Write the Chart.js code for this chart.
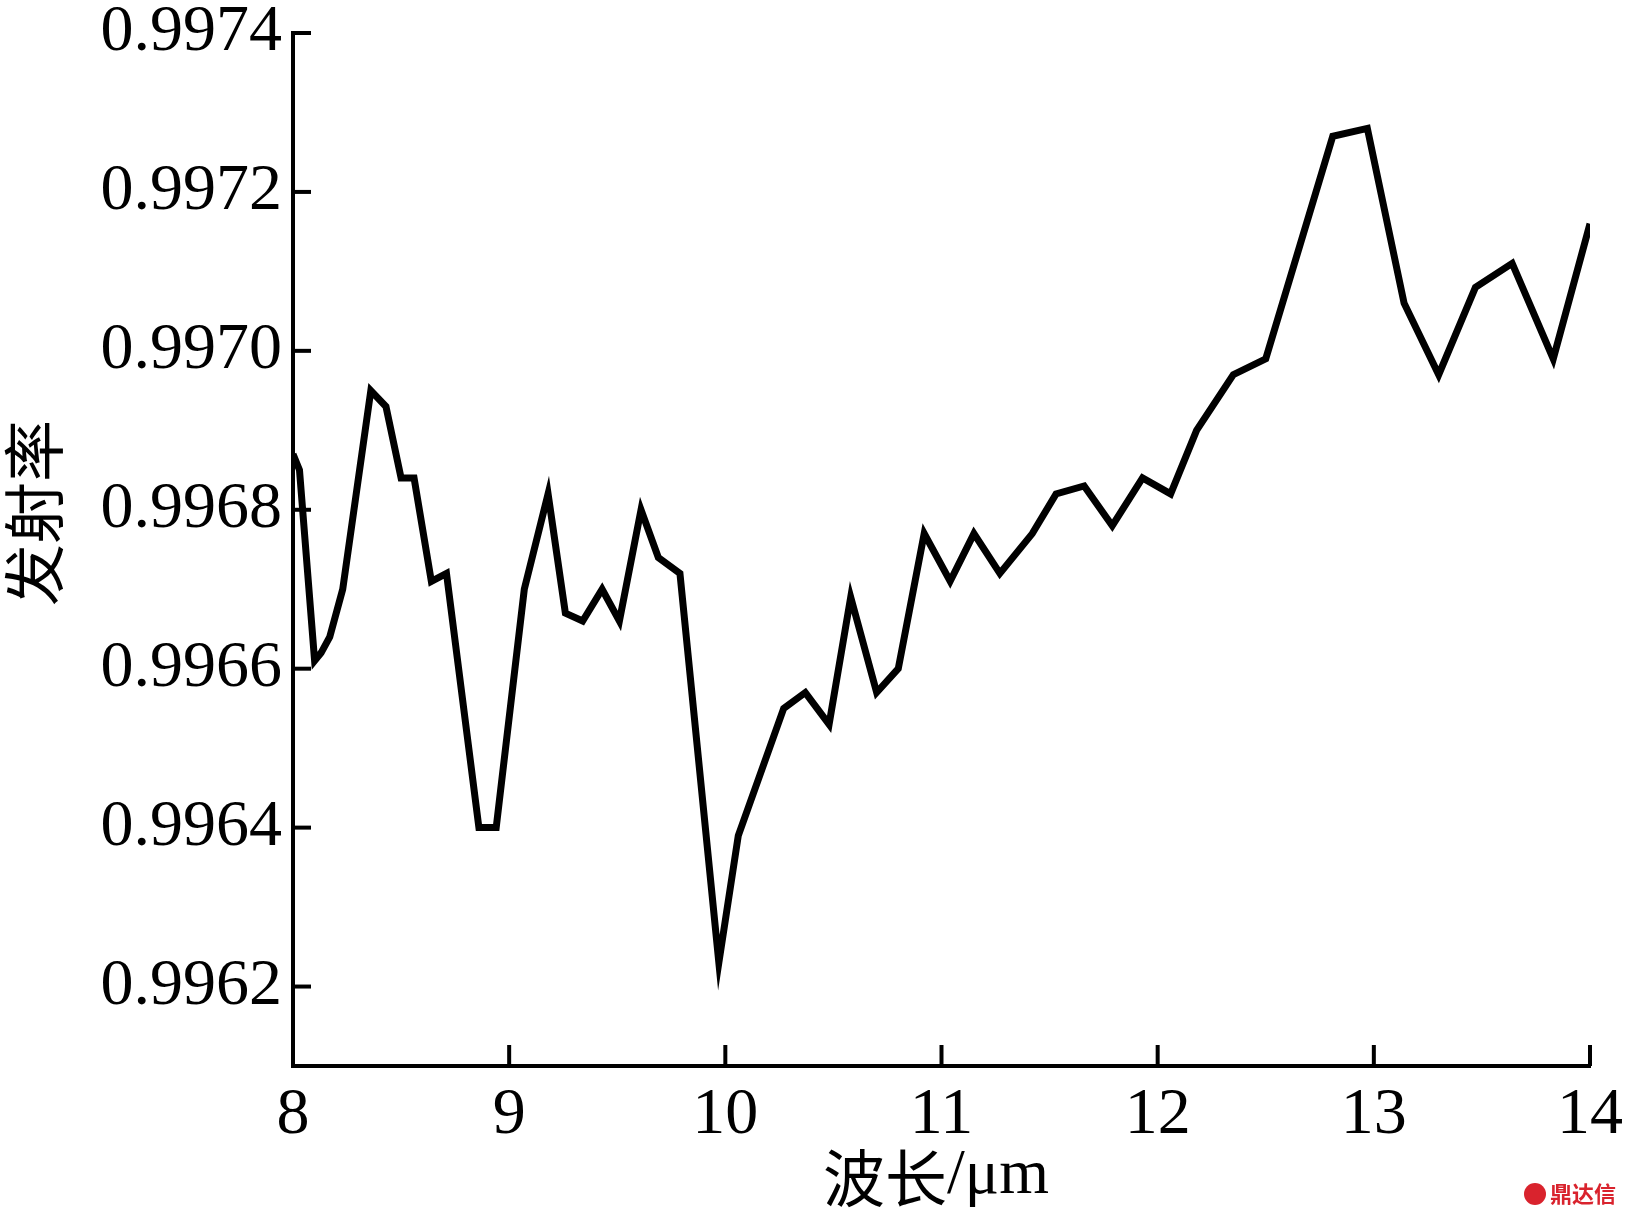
<!DOCTYPE html>
<html>
<head>
<meta charset="utf-8">
<title>发射率</title>
<script src="https://cdn.jsdelivr.net/npm/chart.js@4.4.1/dist/chart.umd.min.js"></script>
<style>
    html, body { margin: 0; padding: 0; background: #ffffff; }
    #wrap { width: 1625px; height: 1219px; position: relative; }
</style>
</head>
<body>
<div id="wrap"><canvas id="emissivityChart"></canvas></div>
<script>
// Wavelength (µm) and emissivity
const wavelength = [
    8.00, 8.03, 8.10, 8.13, 8.17, 8.23, 8.36, 8.43, 8.50, 8.56,
    8.64, 8.71, 8.86, 8.94, 9.07, 9.18, 9.26, 9.34, 9.43, 9.51,
    9.61, 9.69, 9.79, 9.97, 10.06, 10.27, 10.37, 10.48, 10.58, 10.70,
    10.80, 10.92, 11.04, 11.15, 11.27, 11.42, 11.53, 11.66, 11.79, 11.93,
    12.06, 12.18, 12.35, 12.50, 12.81, 12.97, 13.14, 13.30, 13.47, 13.64,
    13.83, 14.00
];
const emissivity = [
    0.99687, 0.99685, 0.99661, 0.99662, 0.99664, 0.99670, 0.99695, 0.99693, 0.99684, 0.99684,
    0.99671, 0.99672, 0.99640, 0.99640, 0.99670, 0.99682, 0.99667, 0.99666, 0.99670, 0.99666,
    0.99680, 0.99674, 0.99672, 0.99623, 0.99639, 0.99655, 0.99657, 0.99653, 0.99669, 0.99657,
    0.99660, 0.99677, 0.99671, 0.99677, 0.99672, 0.99677, 0.99682, 0.99683, 0.99678, 0.99684,
    0.99682, 0.99690, 0.99697, 0.99699, 0.99727, 0.99728, 0.99706, 0.99697, 0.99708, 0.99711,
    0.99699, 0.99716
];
const xTicks = [8, 9, 10, 11, 12, 13, 14];
const yTicks = [0.9962, 0.9964, 0.9966, 0.9968, 0.9970, 0.9972, 0.9974];

const serif = '"Liberation Serif", "Times New Roman", serif';
const cjk = '"Noto Sans CJK SC", sans-serif';

const points = wavelength.map(function (w, i) {
    return { x: w, y: emissivity[i] };
});

// Tick marks pointing into the plot, like the original figure
const inwardTicks = {
    id: 'inwardTicks',
    afterDraw(chart) {
        const ctx = chart.ctx;
        const area = chart.chartArea;
        const xs = chart.scales.x;
        const ys = chart.scales.y;
        ctx.save();
        ctx.strokeStyle = '#000';
        ctx.lineWidth = 4;
        xTicks.forEach(function (t) {
            const px = xs.getPixelForValue(t);
            ctx.beginPath();
            ctx.moveTo(px, area.bottom);
            ctx.lineTo(px, area.bottom - 21);
            ctx.stroke();
        });
        yTicks.forEach(function (t) {
            const py = ys.getPixelForValue(t);
            ctx.beginPath();
            ctx.moveTo(area.left, py);
            ctx.lineTo(area.left + 18, py);
            ctx.stroke();
        });
        ctx.restore();
    }
};

// Axis titles and the small mark in the corner
const axisTitles = {
    id: 'axisTitles',
    afterDraw(chart) {
        const ctx = chart.ctx;
        ctx.save();
        ctx.fillStyle = '#000';
        ctx.textBaseline = 'middle';

        // x title: 波长/μm
        ctx.font = '62px ' + cjk;
        const partA = '波长';
        const wA = ctx.measureText(partA).width;
        ctx.font = '64px ' + serif;
        const partB = '/μm';
        const wB = ctx.measureText(partB).width;
        let start = 936 - (wA + wB) / 2;
        ctx.textAlign = 'left';
        ctx.font = '62px ' + cjk;
        ctx.fillText(partA, start, 1178);
        ctx.font = '64px ' + serif;
        ctx.fillText(partB, start + wA, 1176);

        // y title: 发射率
        ctx.translate(34, 513);
        ctx.rotate(-Math.PI / 2);
        ctx.textAlign = 'center';
        ctx.font = '62px ' + cjk;
        ctx.fillText('发射率', 0, 0);
        ctx.restore();

        // watermark
        ctx.save();
        ctx.fillStyle = '#d9232d';
        ctx.beginPath();
        ctx.arc(1535, 1194, 11, 0, Math.PI * 2);
        ctx.fill();
        ctx.font = 'bold 22px ' + cjk;
        ctx.textAlign = 'left';
        ctx.textBaseline = 'middle';
        ctx.fillText('鼎达信', 1550, 1194);
        ctx.restore();
    }
};

const chartCanvas = document.getElementById('emissivityChart');

new Chart(chartCanvas, {
    type: 'line',
    data: {
        datasets: [{
            data: points,
            borderColor: '#000',
            borderWidth: 7,
            borderJoinStyle: 'miter',
            pointRadius: 0,
            tension: 0,
            fill: false
        }]
    },
    options: {
        responsive: true,
        maintainAspectRatio: false,
        animation: false,
        layout: {
            padding: { left: 0, top: 33, right: 35, bottom: 0 }
        },
        plugins: {
            legend: { display: false },
            tooltip: { enabled: false }
        },
        scales: {
            x: {
                type: 'linear',
                min: 8,
                max: 14,
                afterBuildTicks: function (scale) {
                    scale.ticks = xTicks.map(function (v) { return { value: v }; });
                },
                afterFit: function (scale) {
                    scale.height = 153;
                    // keep the end labels from pushing the plot area inwards
                    scale.paddingLeft = 0;
                    scale.paddingRight = 0;
                },
                grid: { display: true, drawOnChartArea: false, drawTicks: false },
                border: { display: true, color: '#000', width: 4 },
                ticks: {
                    color: '#000',
                    padding: 10,
                    maxRotation: 0,
                    autoSkip: false,
                    font: { family: serif, size: 66 },
                    callback: function (v) { return String(v); }
                }
            },
            y: {
                type: 'linear',
                min: 0.99610,
                max: 0.9974,
                afterBuildTicks: function (scale) {
                    scale.ticks = yTicks.map(function (v) { return { value: v }; });
                },
                afterFit: function (scale) {
                    scale.width = 293;
                    scale.paddingTop = 0;
                    scale.paddingBottom = 0;
                },
                grid: { display: true, drawOnChartArea: false, drawTicks: false },
                border: { display: true, color: '#000', width: 4 },
                ticks: {
                    color: '#000',
                    padding: 11,
                    autoSkip: false,
                    font: { family: serif, size: 66 },
                    callback: function (v) { return Number(v).toFixed(4); }
                }
            }
        }
    },
    plugins: [inwardTicks, axisTitles]
});
</script>
</body>
</html>
